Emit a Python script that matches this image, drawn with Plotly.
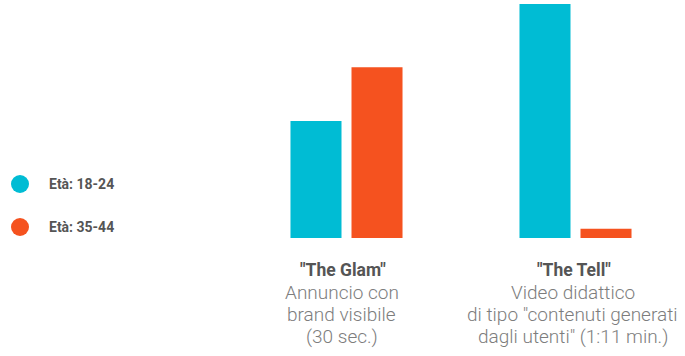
import plotly.graph_objects as go

categories = ["The Glam", "The Tell"]
subtitles = [
    ["Annuncio con", "brand visibile", "(30 sec.)"],
    ["Video didattico", "di tipo \"contenuti generati", "dagli utenti\" (1:11 min.)"],
]
series_names = ["Età: 18-24", "Età: 35-44"]
values_18_24 = [50, 100]
values_35_44 = [73, 4]
colors = ["#00BCD4", "#F5521F"]

W, H = 685, 356
L, R, T, B = 232, 0, 4, 118
pw, ph = W - L - R, H - T - B
label_xshift = [-5, -3]

fig = go.Figure()
for name, vals, col in zip(series_names, [values_18_24, values_35_44], colors):
    fig.add_trace(go.Bar(x=[0, 1], y=vals, name=name, marker=dict(color=col, line=dict(width=0)),
                         showlegend=False, hoverinfo="skip"))

annotations = []
for i, (cat, sub) in enumerate(zip(categories, subtitles)):
    annotations.append(dict(
        x=i, y=0, xref="x", yref="y", yanchor="middle", xanchor="center", yshift=-32,
        xshift=label_xshift[i] + 1,
        text=f"<b>\"{cat}\"</b>", showarrow=False,
        font=dict(family="Roboto", size=17.5, color="#555555"),
    ))
    for k, line in enumerate(sub):
        annotations.append(dict(
            x=i, y=0, xref="x", yref="y", yanchor="middle", xanchor="center", yshift=-54 - 22 * k,
            xshift=label_xshift[i],
            text=line, showarrow=False,
            font=dict(family="Roboto", size=19, color="#7d7d7d", weight=300),
        ))

shapes = []
for j, (name, col) in enumerate(zip(series_names, colors)):
    cy = 184 + j * 43
    shapes.append(dict(type="circle", xref="paper", yref="paper",
                       x0=(11 - L) / pw, x1=(29 - L) / pw,
                       y0=(H - B - (cy + 9)) / ph, y1=(H - B - (cy - 9)) / ph,
                       fillcolor=col, line=dict(width=0)))
    annotations.append(dict(x=(47 - L) / pw, y=(H - B - cy) / ph, xref="paper", yref="paper",
                            xanchor="left", yanchor="middle", showarrow=False,
                            text=f"<b>{name}</b>", font=dict(family="Roboto", size=14, color="#555555")))

fig.update_layout(
    width=W, height=H, margin=dict(l=L, r=R, t=T, b=B),
    paper_bgcolor="white", plot_bgcolor="white",
    barmode="group", bargap=0.467, bargroupgap=0.164,
    xaxis=dict(range=[-0.5, -0.5 + pw / 229], showticklabels=False, showgrid=False, zeroline=False, showline=False),
    yaxis=dict(range=[0, 100], showticklabels=False, showgrid=False, zeroline=False, showline=False),
    annotations=annotations, shapes=shapes,
)
fig.write_html("out.html", config={"displayModeBar": False},
               post_script="document.body.style.margin='0';")
